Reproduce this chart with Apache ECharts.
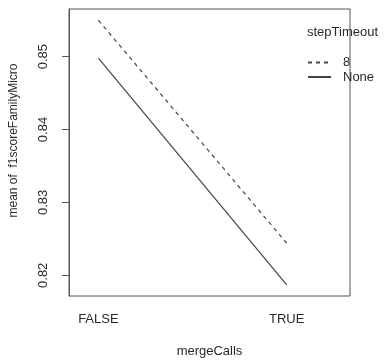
<!DOCTYPE html>
<html><head><meta charset="utf-8">
<script src="https://cdn.jsdelivr.net/npm/echarts@6/dist/echarts.min.js"></script>
<style>html,body{margin:0;padding:0;background:#fff}#c{width:387px;height:363px}</style>
</head><body><div id="c"></div>
<script>
const categories = ['FALSE', 'TRUE'];
const seriesNames = ['8', 'None'];
const values8 = [0.8550, 0.8244];
const valuesNone = [0.8498, 0.8187];
const yTicks = [0.82, 0.83, 0.84, 0.85];
const xTitle = 'mergeCalls';
const yTitle = 'mean of  f1scoreFamilyMicro';
const legendTitle = 'stepTimeout';

const font = 'Liberation Sans, Arial, sans-serif';
const ink = '#2a2a2a';
const lineColor = '#444';
const xPos = categories.map((c, i) => i + 1);
const mk = vals => vals.map((v, i) => [xPos[i], v]);

const chart = echarts.init(document.getElementById('c'), null, {renderer: 'canvas'});
chart.setOption({
  animation: false,
  backgroundColor: '#fff',
  title: {
    text: legendTitle, left: 307, top: 26, padding: 0,
    textStyle: {fontFamily: font, fontSize: 13, fontWeight: 'normal', color: ink}
  },
  legend: {
    orient: 'vertical', left: 307, top: 56, padding: 0,
    itemWidth: 23, itemHeight: 14, itemGap: 1.5,
    data: seriesNames,
    itemStyle: {color: 'transparent', borderColor: 'transparent', borderWidth: 0, opacity: 0},
    textStyle: {fontFamily: font, fontSize: 13, color: ink, padding: [0, 0, 0, 7]}
  },
  grid: {left: 66, top: 9, width: 284, height: 287, show: true, borderColor: '#555', borderWidth: 1, backgroundColor: 'transparent'},
  xAxis: {
    type: 'value', min: 0.844, max: 2.336,
    name: xTitle, nameLocation: 'middle', nameGap: 49,
    nameTextStyle: {fontFamily: font, fontSize: 13, color: ink},
    axisLine: {show: false}, axisTick: {show: false}, splitLine: {show: false},
    axisLabel: {
      customValues: xPos, margin: 17,
      fontFamily: font, fontSize: 13, color: ink,
      formatter: v => categories[Math.round(v) - 1] || ''
    }
  },
  yAxis: {
    type: 'value', min: 0.81716, max: 0.85654,
    name: yTitle, nameLocation: 'middle', nameGap: 49, nameRotate: 90,
    nameTextStyle: {fontFamily: font, fontSize: 12, color: ink, padding: [0, 0, 0, 24]},
    axisLine: {show: true, lineStyle: {color: '#555', width: 1}},
    axisTick: {show: true, customValues: yTicks, length: 7, lineStyle: {color: '#555'}},
    splitLine: {show: false},
    axisLabel: {customValues: yTicks, rotate: 90, margin: 19, fontFamily: font, fontSize: 13, color: ink,
      formatter: v => v.toFixed(2)}
  },
  series: [
    {name: seriesNames[0], type: 'line', data: mk(values8), symbol: 'none',
     lineStyle: {color: lineColor, width: 1.2, type: [4, 4]}, itemStyle: {color: lineColor}},
    {name: seriesNames[1], type: 'line', data: mk(valuesNone), symbol: 'none',
     lineStyle: {color: lineColor, width: 1.2, type: 'solid'}, itemStyle: {color: lineColor}}
  ]
});
</script></body></html>
